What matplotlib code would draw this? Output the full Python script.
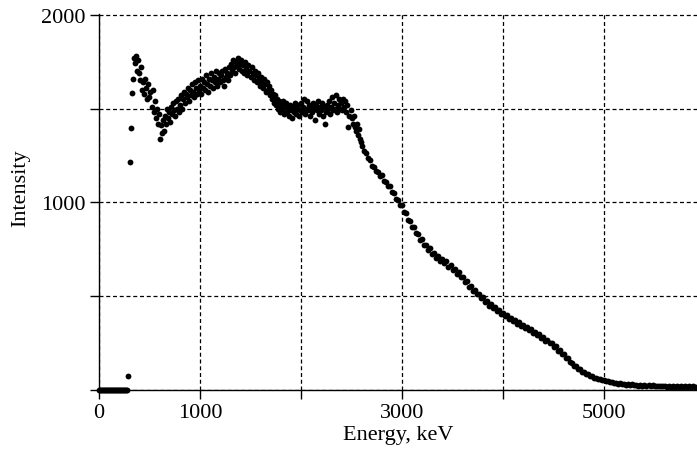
import numpy as np
import matplotlib
matplotlib.use('Agg')
import matplotlib.pyplot as plt

# zero channels below threshold
base_energy = np.arange(0, 290, 10)
base_counts = [0] * len(base_energy)

# isolated points on the rising edge
edge_energy = [290, 305, 315, 325]
edge_counts = [74, 1213, 1396, 1582]

# 340..2590 keV, 10 keV channels
low_energy = np.arange(340, 2600, 10)
low_counts = [
    1660, 1770, 1745, 1780, 1700, 1760,
    1690, 1650, 1720, 1600, 1640, 1580, 1660, 1610, 1550, 1630,
    1560, 1590, 1510, 1600, 1480, 1540, 1450, 1500, 1420, 1470,
    1340, 1410, 1370, 1440, 1380, 1460, 1420, 1500, 1450, 1480,
    1430, 1510, 1470, 1530, 1490, 1460, 1540, 1500, 1550, 1480,
    1520, 1570, 1500, 1550, 1590, 1530, 1580, 1560, 1610, 1540,
    1600, 1570, 1630, 1590, 1560, 1640, 1610, 1580, 1650, 1600,
    1620, 1580, 1660, 1610, 1640, 1600, 1680, 1630, 1590, 1660,
    1620, 1690, 1650, 1610, 1670, 1640, 1700, 1620, 1660, 1690,
    1640, 1680, 1700, 1650, 1620, 1710, 1670, 1690, 1650, 1720,
    1680, 1740, 1700, 1760, 1720, 1690, 1750, 1730, 1770, 1710,
    1740, 1760, 1700, 1730, 1690, 1750, 1710, 1680, 1730, 1700,
    1670, 1720, 1690, 1650, 1700, 1680, 1640, 1690, 1660, 1620,
    1670, 1640, 1610, 1660, 1630, 1590, 1640, 1600, 1620, 1570,
    1600, 1550, 1580, 1530, 1570, 1520, 1550, 1500, 1540, 1480,
    1520, 1490, 1540, 1470, 1510, 1530, 1480, 1500, 1460, 1520,
    1490, 1450, 1510, 1480, 1530, 1470, 1500, 1520, 1460, 1490,
    1530, 1480, 1510, 1550, 1470, 1500, 1540, 1490, 1520, 1460,
    1510, 1480, 1530, 1500, 1440, 1520, 1490, 1540, 1470, 1510,
    1490, 1530, 1460, 1510, 1420, 1480, 1520, 1500, 1540, 1470,
    1510, 1560, 1490, 1530, 1500, 1570, 1480, 1520, 1550, 1500,
    1530, 1490, 1550, 1510, 1540, 1480, 1520, 1400, 1460, 1490,
    1450, 1420, 1460, 1400, 1380, 1420, 1360, 1390, 1340, 1320,
]

# 2600..5920 keV, 20 keV channels
high_energy = np.arange(2600, 5940, 20)
high_counts = [
    1300, 1275, 1265, 1235, 1225, 1195, 1190, 1165, 1160, 1140,
    1145, 1115, 1110, 1085, 1085, 1055, 1050, 1020, 1015, 985,
    985, 950, 945, 905, 900, 870, 870, 835, 830, 800,
    805, 775, 775, 745, 755, 725, 730, 705, 715, 690,
    700, 675, 685, 655, 665, 640, 645, 620, 630, 600,
    605, 575, 580, 550, 555, 530, 535, 510, 512, 490,
    495, 470, 475, 450, 458, 435, 442, 420, 428, 405,
    412, 392, 400, 380, 386, 368, 372, 352, 360, 340,
    348, 330, 336, 318, 324, 305, 310, 292, 296, 278,
    282, 262, 268, 248, 250, 230, 232, 210, 212, 190,
    190, 170, 168, 148, 146, 128, 126, 112, 110, 98,
    96, 86, 84, 76, 74, 66, 66, 58, 60, 52,
    54, 46, 48, 42, 44, 38, 40, 34, 37, 31,
    34, 29, 32, 27, 30, 25, 29, 24, 28, 23,
    27, 22, 26, 21, 25, 20, 24, 20, 23, 19,
    23, 18, 22, 18, 21, 17, 21, 17, 20, 16,
    20, 16, 19, 15, 19, 15, 18,
]

x_ticks = [0, 1000, 2000, 3000, 4000, 5000]
x_tick_labels = ['0', '1000', '', '3000', '', '5000']
y_ticks = [0, 500, 1000, 1500, 2000]
y_tick_labels = ['', '', '1000', '', '2000']

energy = np.concatenate([base_energy, edge_energy, low_energy, high_energy])
counts = np.concatenate([base_counts, edge_counts, low_counts, high_counts])

plt.rcParams['font.family'] = ['Liberation Serif', 'DejaVu Serif']

fig = plt.figure(figsize=(6.97, 4.56), dpi=100)
ax = fig.add_axes([0.142, 0.1425, 0.858, 0.8246])

ax.plot(energy, counts, 'o', color='black', markersize=4.2,
        markeredgewidth=0, clip_on=False, zorder=3)

ax.set_xlim(0, 5920)
ax.set_ylim(0, 2004)

for side in ['top', 'right']:
  ax.spines[side].set_visible(False)
for side in ['left', 'bottom']:
  ax.spines[side].set_linewidth(1.0)

ax.set_xticks(x_ticks)
ax.set_xticklabels(x_tick_labels)
ax.set_yticks(y_ticks)
ax.set_yticklabels(y_tick_labels)
ax.tick_params(direction='out', length=6.5, width=1.0, labelsize=16,
               color='black', pad=3)

ax.grid(True, color='black', linestyle=(0, (3.2, 2.2)), linewidth=0.9)
ax.set_axisbelow(True)

ax.set_xlabel('Energy, keV', fontsize=16, labelpad=2)
ax.set_ylabel('Intensity', fontsize=16)
ax.yaxis.set_label_coords(-0.115, 0.54)

fig.savefig('out.png', dpi=100)
